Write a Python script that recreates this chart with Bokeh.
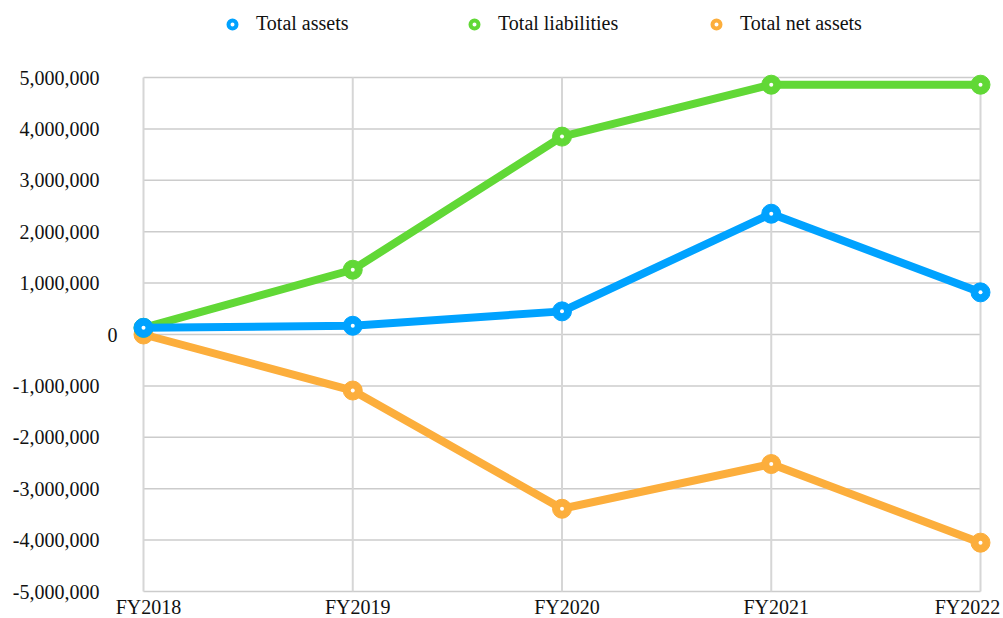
from bokeh.plotting import figure
from bokeh.models import Range1d, Legend, LegendItem, ColumnDataSource
from bokeh.core.properties import value
from bokeh.embed import file_html
from bokeh.resources import INLINE

years = ["FY2018", "FY2019", "FY2020", "FY2021", "FY2022"]
total_assets = [130000, 170000, 450000, 2350000, 820000]
total_liabilities = [130000, 1260000, 3850000, 4860000, 4860000]
total_net_assets = [0, -1090000, -3390000, -2520000, -4050000]
y_ticks = [-5000000, -4000000, -3000000, -2000000, -1000000, 0,
           1000000, 2000000, 3000000, 4000000, 5000000]
y_tick_labels = ["{:,}".format(v) for v in y_ticks]

FONT = "Liberation Serif"
TEXT = "#111111"
BLUE = "#00A2FF"
GREEN = "#61D836"
ORANGE = "#FCAE3C"
GRID_H = "#cccccc"
GRID_V = "#d6d6d6"

n = len(years)
xs = list(range(n))
ymin, ymax = y_ticks[0], y_ticks[-1]

# layout (pixels): the frame covers the whole canvas; data area placed inside it
W, H = 1003, 618
PLOT_L, PLOT_R, PLOT_T, PLOT_B = 143, 980, 77, 591
px_x = (PLOT_R - PLOT_L) / (n - 1)
px_y = (PLOT_B - PLOT_T) / (ymax - ymin)

p = figure(width=W, height=H, output_backend="svg", toolbar_location=None,
           x_range=Range1d(-PLOT_L / px_x, (n - 1) + (W - PLOT_R) / px_x),
           y_range=Range1d(ymin - (H - PLOT_B) / px_y, ymax + PLOT_T / px_y),
           x_axis_location=None, y_axis_location=None,
           min_border_left=0, min_border_right=0, min_border_top=0, min_border_bottom=0)
p.background_fill_color = "white"
p.border_fill_color = "white"
p.outline_line_color = None
p.xgrid.visible = False
p.ygrid.visible = False

# grid lines
hsrc = ColumnDataSource(dict(x0=[xs[0]] * len(y_ticks), x1=[xs[-1]] * len(y_ticks), y=y_ticks))
p.segment(x0="x0", y0="y", x1="x1", y1="y", source=hsrc, line_color=GRID_H, line_width=1.5)
vsrc = ColumnDataSource(dict(x=xs, y0=[ymin] * n, y1=[ymax] * n))
p.segment(x0="x", y0="y0", x1="x", y1="y1", source=vsrc, line_color=GRID_V, line_width=2)

# y tick labels
ysrc = ColumnDataSource(dict(x=[xs[0]] * len(y_ticks), y=y_ticks, t=y_tick_labels,
                             dx=[-26 if v == 0 else -44 for v in y_ticks]))
p.text(x="x", y="y", text="t", source=ysrc, x_offset="dx", text_align="right",
       text_baseline="middle", text_font=value(FONT), text_font_size="20px", text_color=TEXT)

# x tick labels
xsrc = ColumnDataSource(dict(x=xs, y=[ymin] * n, t=years,
                             dx=[5] * (n - 1) + [-13]))
p.text(x="x", y="y", text="t", source=xsrc, x_offset="dx", y_offset=4, text_align="center",
       text_baseline="top", text_font=value(FONT), text_font_size="20px", text_color=TEXT)

series = [("Total net assets", total_net_assets, ORANGE),
          ("Total liabilities", total_liabilities, GREEN),
          ("Total assets", total_assets, BLUE)]

legend_renderers = {}
for name, vals, col in series:
    src = ColumnDataSource(dict(x=xs, y=vals))
    p.line("x", "y", source=src, line_color=col, line_width=8, line_join="round")
    p.scatter("x", "y", source=src, size=19, fill_color=col, line_color=col)
    p.scatter("x", "y", source=src, size=4, fill_color="white", line_color=None)
    proxy = ColumnDataSource(dict(x=[float("nan")], y=[float("nan")]))
    legend_renderers[name] = p.scatter("x", "y", source=proxy, size=9, fill_color="white",
                                       line_color=col, line_width=4)

items = [LegendItem(label=nm, renderers=[legend_renderers[nm]])
         for nm in ["Total assets", "Total liabilities", "Total net assets"]]
legend = Legend(items=items, orientation="horizontal", location=(222, H - 35),
                glyph_width=20, glyph_height=20, label_standoff=14, label_width=188,
                spacing=20, padding=0, margin=0, border_line_color=None,
                background_fill_alpha=0, label_text_font=FONT,
                label_text_font_size="20px", label_text_color=TEXT)
p.add_layout(legend, "center")

open("out.html", "w").write(file_html(p, INLINE))
